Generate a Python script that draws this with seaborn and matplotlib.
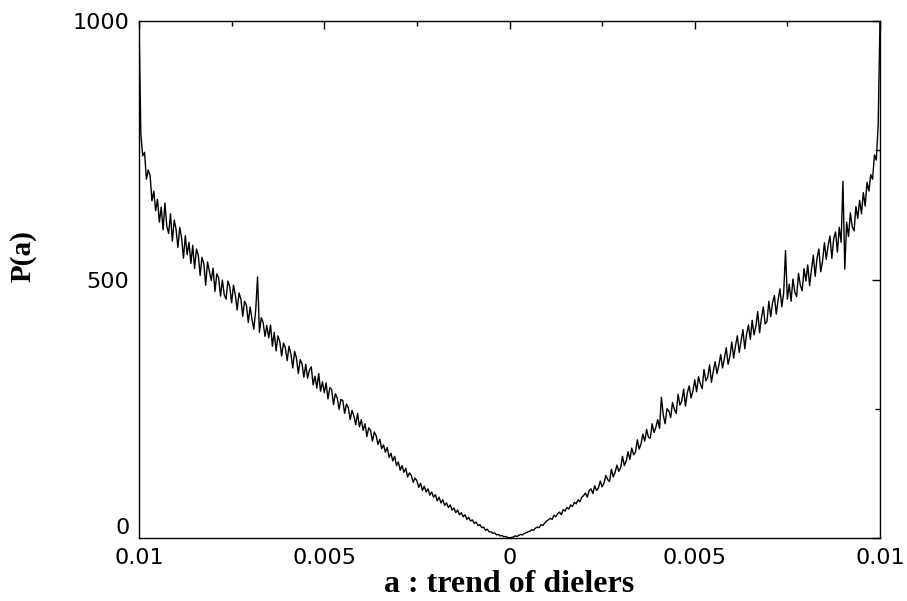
import numpy as np
import matplotlib
matplotlib.use("Agg")
import matplotlib.pyplot as plt
import seaborn as sns

# ---- data ----
# P(a) for a from -0.01 up to -0.00005 (200 bins, step 0.00005)
p_left = [
    1000, 781, 739, 746, 694, 712, 701, 652, 671, 633,
    655, 611, 640, 596, 648, 603, 589, 627, 574, 615,
    597, 562, 601, 580, 541, 585, 548, 572, 531, 566,
    521, 559, 547, 508, 543, 530, 489, 534, 516, 498,
    522, 477, 511, 503, 468, 499, 471, 462, 497, 486,
    455, 489, 470, 441, 474, 462, 429, 458, 450, 417,
    447, 423, 404, 441, 505, 398, 426, 417, 390, 411,
    387, 412, 371, 398, 362, 391, 380, 352, 377, 368,
    343, 371, 356, 329, 361, 348, 318, 345, 337, 311,
    336, 309, 325, 331, 296, 313, 290, 318, 284, 302,
    281, 300, 269, 291, 287, 258, 279, 271, 249, 268,
    266, 241, 259, 252, 229, 247, 236, 219, 241, 215,
    229, 208, 221, 196, 213, 208, 187, 205, 198, 181,
    191, 173, 180, 166, 175, 156, 164, 149, 158, 140,
    147, 131, 140, 127, 135, 118, 126, 121, 108, 116,
    111, 98, 106, 92, 100, 89, 95, 83, 89, 79,
    84, 72, 79, 68, 74, 63, 68, 59, 64, 54,
    58, 49, 54, 45, 49, 41, 45, 36, 40, 33,
    35, 28, 31, 24, 26, 20, 21, 15, 17, 12,
    12, 9, 10, 6, 7, 4, 5, 2, 3, 1,
]
p_center = [0]
# P(a) for a from 0.00005 up to 0.01 (200 bins)
p_right = [
    1, 2, 4, 3, 5, 7, 6, 9, 10, 12,
    13, 16, 15, 19, 21, 20, 26, 24, 29, 33,
    35, 38, 36, 44, 41, 47, 50, 45, 55, 52,
    59, 56, 64, 61, 69, 66, 74, 70, 79, 82,
    87, 79, 92, 95, 86, 101, 92, 97, 110, 99,
    106, 121, 113, 109, 133, 118, 127, 141, 129, 136,
    158, 140, 149, 167, 152, 174, 161, 166, 190, 172,
    182, 201, 187, 210, 195, 193, 221, 204, 214, 229,
    212, 272, 238, 221, 250, 246, 233, 262, 249, 241,
    278, 257, 265, 288, 255, 281, 294, 271, 284, 306,
    283, 312, 298, 289, 326, 304, 311, 335, 301, 322,
    341, 318, 334, 355, 329, 347, 368, 336, 352, 379,
    348, 372, 391, 359, 381, 403, 366, 395, 412, 384,
    421, 393, 410, 438, 397, 426, 447, 414, 419, 458,
    428, 455, 469, 433, 461, 482, 447, 474, 556, 462,
    491, 458, 501, 476, 467, 512, 489, 478, 521, 497,
    528, 488, 519, 547, 506, 541, 559, 515, 536, 571,
    539, 566, 584, 541, 579, 592, 553, 601, 572, 690,
    520, 611, 583, 629, 602, 594, 641, 618, 653, 627,
    668, 642, 688, 671, 703, 694, 741, 731, 798, 1000,
]
p_values = p_left + p_center + p_right
a_values = np.linspace(-0.01, 0.01, len(p_values))

x_ticks = [-0.01, -0.005, 0.0, 0.005, 0.01]
x_tick_labels = ["0.01", "0.005", "0", "0.005", "0.01"]
x_minor = [-0.0075, -0.0025, 0.0025, 0.0075]
y_ticks = [0, 500, 1000]
y_tick_labels = ["0", "500", "1000"]
y_minor = [250, 750]

# ---- style ----
sns.set_style("white")
plt.rcParams["font.family"] = ["DejaVu Sans"]
plt.rcParams["text.color"] = "black"
plt.rcParams["axes.labelcolor"] = "black"
plt.rcParams["xtick.color"] = "black"
plt.rcParams["ytick.color"] = "black"

fig = plt.figure(figsize=(9.07, 6.01), dpi=100)
ax = fig.add_axes([139 / 907, 1 - 538 / 601, (880 - 139) / 907, (538 - 21) / 601])

sns.lineplot(x=a_values, y=p_values, ax=ax, color="black", linewidth=1.0,
             estimator=None, errorbar=None, sort=False)

ax.set_xlim(-0.01, 0.01)
ax.set_ylim(0, 1000)
ax.set_xticks(x_ticks)
ax.set_xticklabels(x_tick_labels)
ax.set_xticks(x_minor, minor=True)
ax.set_yticks(y_ticks)
ax.set_yticklabels(y_tick_labels)
ax.set_yticks(y_minor, minor=True)

ax.tick_params(which="both", direction="in", top=True, right=True,
               color="black", width=1.0)
ax.tick_params(which="major", length=6, labelsize=16, pad=7)
ax.tick_params(which="minor", length=3.5)
ax.tick_params(axis="x", which="major", pad=7)

# the "0" of the y axis sits just above the "0.01" of the x axis
ax.get_yticklabels()[0].set_verticalalignment("bottom")

for s in ax.spines.values():
    s.set_visible(True)
    s.set_color("black")
    s.set_linewidth(1.0)

ax.set_xlabel("a : trend of dielers", fontsize=23, fontweight="bold",
              family="Liberation Serif")
ax.set_ylabel("P(a)", fontsize=21, fontweight="bold", family="Liberation Serif")
ax.xaxis.set_label_coords(0.5, -0.062)
ax.yaxis.set_label_coords(-0.138, 0.545)

fig.savefig("out.png", dpi=100)
